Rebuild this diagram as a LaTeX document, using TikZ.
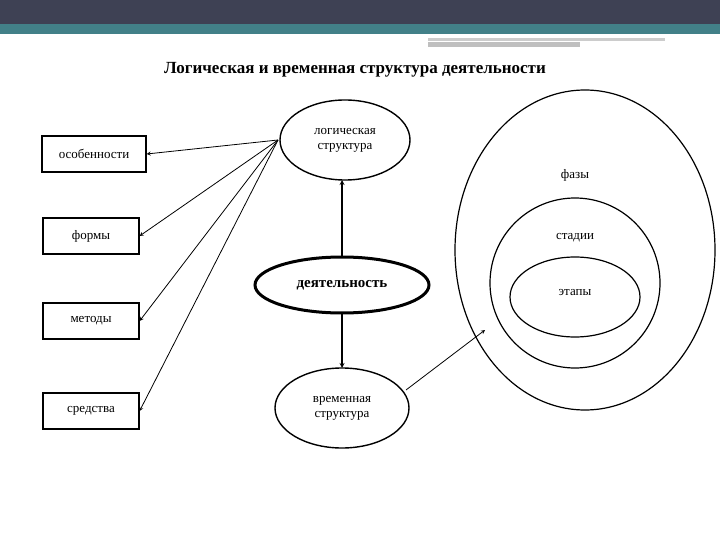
\documentclass[tikz,border=0pt]{standalone}
\usepackage{fontspec}
\setmainfont{Liberation Serif}
\begin{document}
\begin{tikzpicture}[x=1pt,y=-1pt,
  box/.style={draw,line width=1.2pt,minimum width=96pt,minimum height=36pt,font=\fontsize{13}{15}\selectfont},
  lab/.style={align=center,font=\fontsize{13}{15}\selectfont},
  arr/.style={->,>=stealth,line width=0.8pt}]
\useasboundingbox (0,0) rectangle (720,540);
\fill[fill={rgb,255:red,62;green,65;blue,84}] (0,0) rectangle (720,24);
\fill[fill={rgb,255:red,66;green,128;blue,136}] (0,24) rectangle (720,34);
\fill[gray!40] (428,38) rectangle (665,41);
\fill[gray!50] (428,42) rectangle (580,47);
\node[font=\bfseries\fontsize{17}{20}\selectfont] (title) at (355,70) {Логическая и временная структура деятельности};
\node[box,minimum width=104pt] (b1) at (94,154) {особенности};
\node[box] (b2) at (91,236) {формы};
\node[box] (b3) at (91,321) {методы};
\node[box] (b4) at (91,411) {средства};
\draw[line width=1.4pt] (345,140) ellipse (65 and 40);
\node[lab] (log) at (345,140) {логическая\\структура};
\draw[line width=3pt] (342,285) ellipse (87 and 28);
\node[font=\bfseries\fontsize{15}{17}\selectfont] (act) at (342,285) {деятельность};
\draw[line width=1.4pt] (342,408) ellipse (67 and 40);
\node[lab] (time) at (342,408) {временная\\структура};
\draw[line width=1.2pt] (585,250) ellipse (130 and 160);
\draw[line width=1.2pt] (575,283) ellipse (85 and 85);
\draw[line width=1.2pt] (575,297) ellipse (65 and 40);
\node[lab] (f) at (575,175) {фазы};
\node[lab] (s) at (575,238) {стадии};
\node[lab] (e) at (575,292) {этапы};
\coordinate (lp) at (278,140);
\draw[arr] (lp) -- (b1.east);
\draw[arr] (lp) -- (b2.east);
\draw[arr] (lp) -- (b3.east);
\draw[arr] (lp) -- (b4.east);
\coordinate (at) at (342,257); \coordinate (lb) at (342,180);
\coordinate (ab) at (342,313); \coordinate (tt) at (342,368);
\draw[arr,line width=1.2pt] (at) -- (lb);
\draw[arr,line width=1.2pt] (ab) -- (tt);
\coordinate (tr) at (406,390); \coordinate (ol) at (485,330);
\draw[arr] (tr) -- (ol);
\end{tikzpicture}
\end{document}
